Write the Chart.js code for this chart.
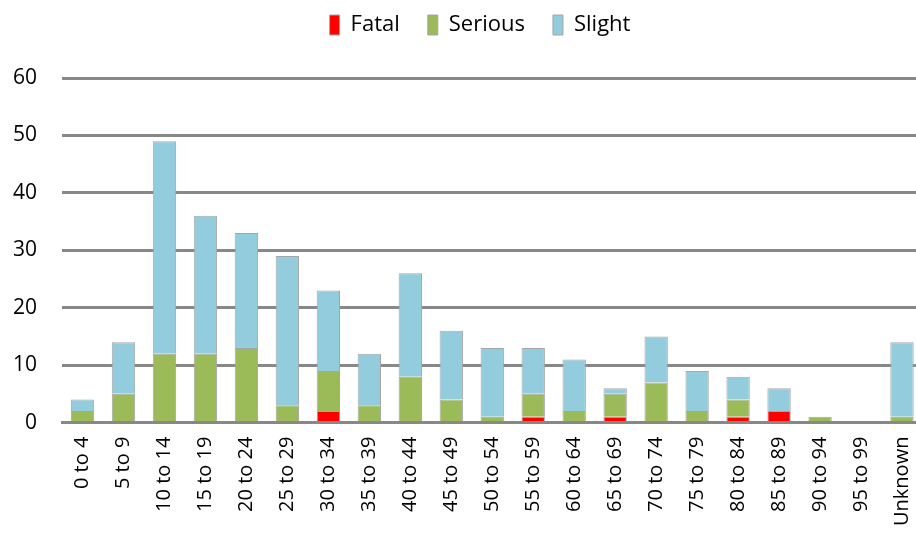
<!DOCTYPE html>
<html>
<head>
<meta charset="utf-8">
<script src="https://cdn.jsdelivr.net/npm/chart.js@4"></script>
<style>
  html, body { margin: 0; padding: 0; background: #fff; overflow: hidden; }
  #wrap { width: 956px; height: 543px; margin-left: -24px; }
</style>
</head>
<body>
<div id="wrap"><canvas id="ageChart"></canvas></div>
<script>
var ageBands = ['0 to 4', '5 to 9', '10 to 14', '15 to 19', '20 to 24', '25 to 29', '30 to 34',
  '35 to 39', '40 to 44', '45 to 49', '50 to 54', '55 to 59', '60 to 64', '65 to 69',
  '70 to 74', '75 to 79', '80 to 84', '85 to 89', '90 to 94', '95 to 99', 'Unknown'];
var fatal   = [0, 0, 0, 0, 0, 0, 2, 0, 0, 0, 0, 1, 0, 1, 0, 0, 1, 2, 0, 0, 0];
var serious = [2, 5, 12, 12, 13, 3, 7, 3, 8, 4, 1, 4, 2, 4, 7, 2, 3, 0, 1, 0, 1];
var slight  = [2, 9, 37, 24, 20, 26, 14, 9, 18, 12, 12, 8, 9, 1, 8, 7, 4, 4, 0, 0, 13];

var ctx = document.getElementById('ageChart').getContext('2d');

var family = "'Open Sans', sans-serif";

function series(label, data, color) {
  return {
    label: label,
    data: data,
    backgroundColor: color,
    borderColor: '#a6a6a6',
    borderWidth: 1,
    borderSkipped: 'bottom',
    barPercentage: 0.57,
    categoryPercentage: 1
  };
}

// extra room under the legend, and nudge it a bit to the right
var legendTweak = {
  id: 'legendTweak',
  beforeInit: function(chart) {
    var fit = chart.legend.fit;
    chart.legend.fit = function() {
      fit.bind(chart.legend)();
      this.height += 32;
    };
  },
  afterLayout: function(chart) {
    chart.legend.left += 20;
    chart.legend.right += 20;
  }
};

var config = {
  type: 'bar',
  data: {
    labels: ageBands,
    datasets: [
      series('Fatal', fatal, '#ff0000'),
      series('Serious', serious, '#9bbb59'),
      series('Slight', slight, '#93cddd')
    ]
  },
  options: {
    responsive: true,
    maintainAspectRatio: false,
    animation: false,
    layout: { padding: { left: 12, right: 0, top: -14, bottom: 11 } },
    plugins: {
      legend: {
        position: 'top',
        labels: {
          color: '#000',
          font: { family: family, size: 22 },
          boxWidth: 10,
          boxHeight: 20,
          padding: 28
        }
      },
      tooltip: { enabled: false }
    },
    scales: {
      x: {
        stacked: true,
        grid: { display: false },
        border: { display: true, color: '#888', width: 3 },
        ticks: {
          color: '#000',
          font: { family: family, size: 20 },
          maxRotation: 90,
          minRotation: 90,
          autoSkip: false,
          padding: 6
        }
      },
      y: {
        stacked: true,
        min: 0,
        max: 60,
        grid: { color: '#888', lineWidth: 3, drawTicks: false },
        border: { display: false },
        ticks: {
          stepSize: 10,
          color: '#000',
          font: { family: family, size: 21 },
          padding: 25
        }
      }
    }
  },
  plugins: [legendTweak]
};

var myBarChart = new Chart(ctx, config);
</script>
</body>
</html>
